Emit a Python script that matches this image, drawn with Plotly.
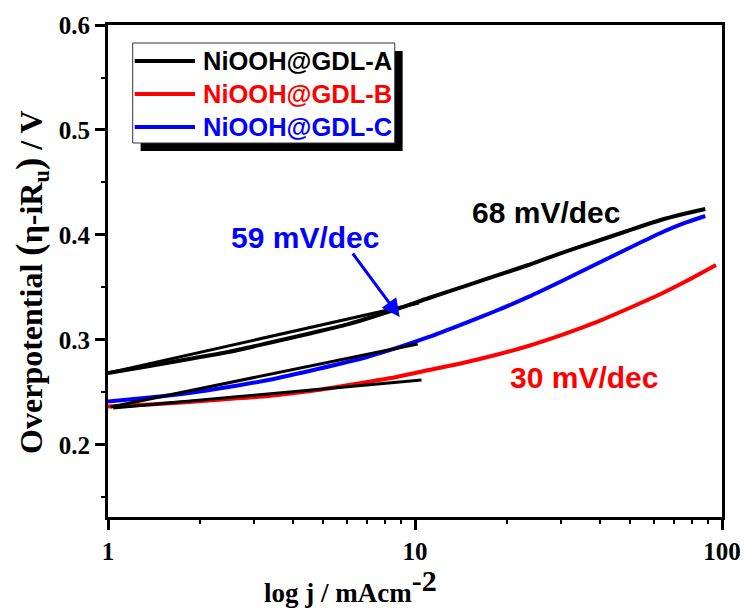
import plotly.graph_objects as go

# ---------------- data ----------------
j_A = [1.0, 1.366, 1.84, 2.47, 3.33, 4.47, 6.02, 8.72, 11.1, 14.3, 18.3, 23.4, 30.1, 38.4, 49.1, 63.1, 74.9, 88.2]
V_A = [0.2686, 0.2752, 0.2819, 0.2886, 0.2971, 0.3057, 0.3148, 0.3295, 0.3400, 0.3505, 0.3610, 0.3714,
       0.3829, 0.3933, 0.4038, 0.4143, 0.4200, 0.4248]

j_B = [1.0, 1.366, 1.84, 2.47, 3.33, 4.82, 6.98, 8.72, 11.1, 14.3, 18.3, 23.4, 30.1, 38.4, 49.1, 63.1, 77.7, 95.6]
V_B = [0.2367, 0.2386, 0.2410, 0.2438, 0.2467, 0.2524, 0.2600, 0.2648, 0.2714, 0.2781, 0.2857, 0.2943,
       0.3048, 0.3162, 0.3295, 0.3438, 0.3571, 0.3714]

j_C = [1.0, 1.366, 1.84, 2.47, 3.33, 4.82, 6.98, 8.72, 11.1, 14.3, 18.3, 23.4, 30.1, 38.4, 49.1, 63.1, 74.9, 88.2]
V_C = [0.2414, 0.2452, 0.2495, 0.2552, 0.2619, 0.2724, 0.2838, 0.2924, 0.3029, 0.3152, 0.3276, 0.3410,
       0.3562, 0.3714, 0.3867, 0.4019, 0.4110, 0.4181]

# Tafel fit lines
fit_A_j = [1.0, 10.3]
fit_A_V = [0.2686, 0.3352]
fit_B_j = [1.04, 10.5]
fit_B_V = [0.2352, 0.2619]
fit_C_j = [1.02, 10.2]
fit_C_V = [0.2362, 0.2962]

series_names = ["NiOOH@GDL-A", "NiOOH@GDL-B", "NiOOH@GDL-C"]
series_colors = ["#000000", "#ff0000", "#0000ff"]

x_tickvals = [1, 10, 100]
x_ticktext = ["1", "10", "100"]
x_minor = [2, 3, 4, 5, 6, 7, 8, 9, 20, 30, 40, 50, 60, 70, 80, 90]
y_tickvals = [0.2, 0.3, 0.4, 0.5, 0.6]
y_ticktext = ["0.2", "0.3", "0.4", "0.5", "0.6"]
y_minor = [0.15, 0.25, 0.35, 0.45, 0.55]

slope_labels = ["68 mV/dec", "30 mV/dec", "59 mV/dec"]

# ---------------- layout helpers ----------------
W, H = 753, 612
L, R, T, B = 108, 24, 25, 95
PW, PH = W - L - R, H - T - B

def px(x, y):
    return (x - L) / PW, (H - B - y) / PH

SERIF = "Liberation Serif, Times New Roman, serif"
SANS = "Liberation Sans, Arial, sans-serif"

fig = go.Figure()

data = [(j_A, V_A), (j_B, V_B), (j_C, V_C)]
for (jj, vv), name, col in zip(data, series_names, series_colors):
    fig.add_trace(go.Scatter(x=jj, y=vv, mode="lines", name=name,
                             line=dict(color=col, width=4, shape="spline", smoothing=0.6),
                             showlegend=False))

for jj, vv in [(fit_A_j, fit_A_V), (fit_C_j, fit_C_V), (fit_B_j, fit_B_V)]:
    fig.add_trace(go.Scatter(x=jj, y=vv, mode="lines", line=dict(color="black", width=3),
                             showlegend=False))

fig.update_xaxes(type="log", range=[0, 2], tickvals=x_tickvals, ticktext=x_ticktext,
                 ticks="outside", ticklen=10, tickwidth=2.5, tickcolor="black",
                 minor=dict(ticks="outside", ticklen=4, tickwidth=2, tickcolor="black", tickvals=x_minor),
                 showline=True, linewidth=3, linecolor="black", mirror=True,
                 showgrid=False, zeroline=False,
                 tickfont=dict(family=SERIF, size=25, color="black", weight="bold"))
fig.update_yaxes(range=[0.1314, 0.6], tickvals=y_tickvals, ticktext=y_ticktext,
                 ticks="outside", ticklen=10, tickwidth=2.5, tickcolor="black",
                 minor=dict(ticks="outside", ticklen=4, tickwidth=2, tickcolor="black", tickvals=y_minor),
                 showline=True, linewidth=3, linecolor="black", mirror=True,
                 showgrid=False, zeroline=False,
                 tickfont=dict(family=SERIF, size=25, color="black", weight="bold"))

shapes = []
annos = []

# legend shadow and box
sx0, sy0 = px(141, 151)
sx1, sy1 = px(406, 51)
shapes.append(dict(type="rect", xref="paper", yref="paper", x0=sx0, y0=sy0, x1=sx1, y1=sy1,
                   fillcolor="black", line=dict(width=0), layer="above"))
bx0, by0 = px(133, 143)
bx1, by1 = px(398, 43)
shapes.append(dict(type="rect", xref="paper", yref="paper", x0=bx0, y0=by0, x1=bx1, y1=by1,
                   fillcolor="white", line=dict(color="#333333", width=1), layer="above"))
for i, (name, col) in enumerate(zip(series_names, series_colors)):
    yy = 61 + 33 * i
    lx0, ly = px(135, yy)
    lx1, _ = px(196, yy)
    shapes.append(dict(type="line", xref="paper", yref="paper", x0=lx0, y0=ly, x1=lx1, y1=ly,
                       line=dict(color=col, width=4), layer="above"))
    tx, ty = px(202, yy)
    annos.append(dict(xref="paper", yref="paper", x=tx, y=ty, xanchor="left", yanchor="middle",
                      text=name, showarrow=False,
                      font=dict(family=SANS, size=25.5, color=col, weight="bold")))

# slope labels
for txt, col, (cx, cy) in zip(slope_labels, ["black", "#ff0000", "#0000ff"],
                              [(551, 212), (589, 377), (307, 237)]):
    ax_, ay_ = px(cx, cy)
    annos.append(dict(xref="paper", yref="paper", x=ax_, y=ay_, xanchor="center", yanchor="middle",
                      text=txt, showarrow=False,
                      font=dict(family=SANS, size=30, color=col, weight="bold")))

# arrow
annos.append(dict(x=0.950, y=0.3219, xref="x", yref="y", text="", showarrow=True,
                  ax=-48, ay=-65, arrowhead=2, arrowsize=1.2, arrowwidth=3, arrowcolor="#0000ff"))

# axis titles
tx, ty = px(353, 586)
annos.append(dict(xref="paper", yref="paper", x=tx, y=ty, xanchor="center", yanchor="middle",
                  text='log j / mAcm<sup><span style="font-size:30px">-2</span></sup>', showarrow=False,
                  font=dict(family=SERIF, size=27, color="black", weight="bold")))
tx, ty = px(30, 282)
annos.append(dict(xref="paper", yref="paper", x=tx, y=ty, xanchor="center", yanchor="middle",
                  textangle=-90,
                  text='Overpotential <span style="font-size:37px">(</span>η-iR<sub>u</sub><span style="font-size:37px">)</span> / V',
                  showarrow=False,
                  font=dict(family=SERIF, size=32, color="black", weight="bold")))

fig.update_layout(width=W, height=H, margin=dict(l=L, r=R, t=T, b=B),
                  plot_bgcolor="white", paper_bgcolor="white",
                  shapes=shapes, annotations=annos, showlegend=False)

fig.write_html("out.html")
